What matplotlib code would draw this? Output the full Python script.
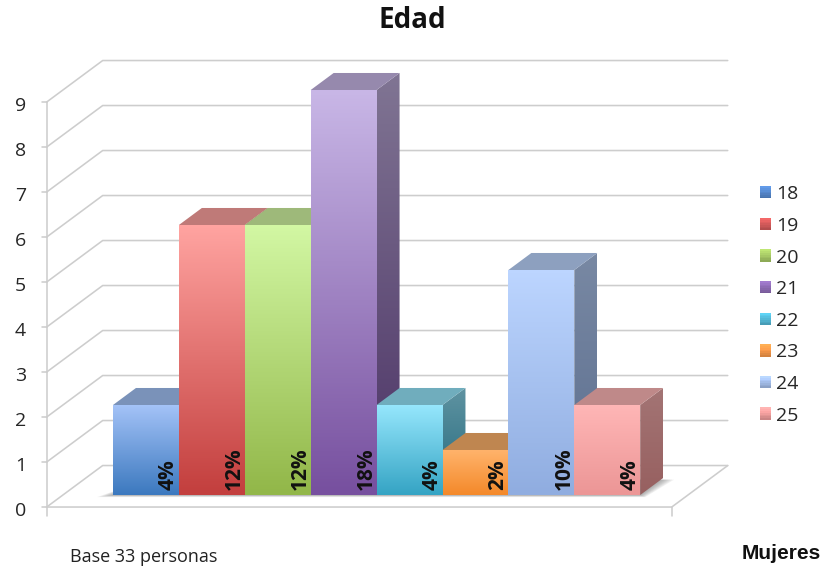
import numpy as np
import matplotlib
matplotlib.use("Agg")
import matplotlib.pyplot as plt
from matplotlib.colors import LinearSegmentedColormap, to_rgb
from matplotlib.legend_handler import HandlerBase
from matplotlib.patches import Polygon, Patch, Rectangle

ages = ["18", "19", "20", "21", "22", "23", "24", "25"]
counts = [2, 6, 6, 9, 2, 1, 5, 2]
percent_labels = ["4%", "12%", "12%", "18%", "4%", "2%", "10%", "4%"]
y_ticks = list(range(10))
light_colors = ["#a3c2f7", "#ffa3a0", "#d2f7a3", "#c8b6e6", "#95e6fc", "#ffb36b", "#bcd5ff", "#ffb6b6"]
dark_colors = ["#3c79bf", "#c33f3e", "#92b749", "#77509f", "#35a4c4", "#f4892a", "#90ade0", "#ec9696"]
legend_colors = ["#5587cb", "#d35a5a", "#a6c865", "#8d6bb4", "#53b8d6", "#f8994a", "#a3bde9", "#ef9d9c"]

W, H = 823, 569
PX_X, PX_Y = 65.9, 45.0          # pixels per category / per count
ORIGIN_X, ORIGIN_Y = 113.0, 495.0
DEPTH_X, DEPTH_Y = 56 / PX_X, 41.5 / PX_Y   # full floor depth in data units
BAR_FRONT, BAR_BACK = 0.29, 0.70
FLOOR_L, FLOOR_R = -0.76, 8.725
GRID = "#cdcdcd"

fig = plt.figure(figsize=(W / 100, H / 100), dpi=100, facecolor="white")
ax = fig.add_axes([0, 0, 1, 1])
xlim = (-ORIGIN_X / PX_X, (W - ORIGIN_X) / PX_X)
ylim = ((ORIGIN_Y - H) / PX_Y, ORIGIN_Y / PX_Y)
ax.axis("off")


def project(x, v, t):
    """Map category position, count and floor depth (0 front, 1 back) to the axes."""
    return x + (t - BAR_FRONT) * DEPTH_X, v + (t - BAR_FRONT) * DEPTH_Y


def shade(color, factor):
    return tuple(min(c * factor, 1) for c in to_rgb(color))


def gradient_face(verts, top, bottom, zorder):
    xs, ys = zip(*verts)
    cmap = LinearSegmentedColormap.from_list("face", [bottom, top])
    img = ax.imshow(np.linspace(1, 0, 64).reshape(-1, 1), extent=(min(xs), max(xs), min(ys), max(ys)),
                    cmap=cmap, vmin=0, vmax=1, aspect="auto", interpolation="bilinear", zorder=zorder)
    img.set_clip_path(Polygon(verts, closed=True, transform=ax.transData))


class GradientSwatch(HandlerBase):
    """Legend key filled with a top-to-bottom fade of the patch colour."""

    def create_artists(self, legend, orig_handle, xdescent, ydescent, width, height, fontsize, trans):
        base = orig_handle.get_facecolor()
        strips = []
        for k, f in enumerate(np.linspace(0.85, 1.15, 7)):
            strips.append(Rectangle((-xdescent, -ydescent + k * height / 7), width, height / 7 + 0.3,
                                    facecolor=shade(base, f), edgecolor="none", transform=trans))
        return strips


# Walls and floor guide lines
line = dict(color=GRID, lw=1.15, solid_capstyle="round", zorder=1)
for v in y_ticks:
    x0, y0 = project(FLOOR_L, v, 0)
    x1, y1 = project(FLOOR_L, v, 1)
    x2, y2 = project(FLOOR_R, v, 1)
    ax.plot([x0, x1, x2], [y0, y1, y2], **line)
    ax.plot([x0 - 5 / PX_X, x0], [y0, y0], **line)
    ax.text(x0 - 26 / PX_X, y0 - 4 / PX_Y, str(v), ha="center", va="center", fontsize=14,
            family="Open Sans", color="#262626", zorder=6)

ax.plot(*zip(project(FLOOR_L, 0, 0), project(FLOOR_L, 9, 0)), **line)
ax.plot(*zip(project(FLOOR_L, 0, 0), project(FLOOR_L, -0.2, 0)), **line)
ax.plot(*zip(project(FLOOR_L, 0, 0), project(FLOOR_R, 0, 0), project(FLOOR_R, 0, 1)), **line)
ax.plot(*zip(project(FLOOR_R, 0, 0), project(FLOOR_R, -0.2, 0)), **line)

# Soft shadow on the floor beneath the row of bars
for grow in np.linspace(0, 1, 8):
    spread = 1 - grow
    ax.add_patch(Polygon([project(-0.22 * spread + 0.02, 0, BAR_FRONT - 0.05 * spread),
                          project(8 + 0.12 * spread, 0, BAR_FRONT - 0.05 * spread),
                          project(8 + 0.2 * spread, 0, BAR_BACK - 0.04),
                          project(0.2, 0, BAR_BACK - 0.04)],
                         closed=True, facecolor="#666666", edgecolor="none", alpha=0.09, zorder=1.5))

# Bars, painted left to right so that nearer ones overlap
for i, (v, light, dark) in enumerate(zip(counts, light_colors, dark_colors)):
    z = 2 + i * 0.1
    front = [project(i, 0, BAR_FRONT), project(i + 1, 0, BAR_FRONT),
             project(i + 1, v, BAR_FRONT), project(i, v, BAR_FRONT)]
    side = [project(i + 1, 0, BAR_FRONT), project(i + 1, 0, BAR_BACK),
            project(i + 1, v, BAR_BACK), project(i + 1, v, BAR_FRONT)]
    top = [project(i, v, BAR_FRONT), project(i + 1, v, BAR_FRONT),
           project(i + 1, v, BAR_BACK), project(i, v, BAR_BACK)]
    gradient_face(side, shade(light, 0.64), shade(dark, 0.64), z)
    ax.add_patch(Polygon(top, closed=True, facecolor=shade(light, 0.75), edgecolor="none", zorder=z + 0.01))
    gradient_face(front, light, dark, z + 0.02)

for i, label in enumerate(percent_labels):
    ax.text(i + 1 - 10.5 / PX_X, 0.12, label, rotation=90, ha="center", va="bottom", fontsize=15,
            family="Open Sans", weight="bold", color="#111111", zorder=5)

# Legend
handles = [Patch(facecolor=c, edgecolor="none", label=a) for a, c in zip(ages, legend_colors)]
ax.legend(handles=handles, loc="center left", bbox_to_anchor=(760 / W, 1 - 305 / H), frameon=False,
          ncol=1, handlelength=0.57, handleheight=0.57, handletextpad=0.26, labelspacing=0.7,
          prop=dict(family="Open Sans", size=14), labelcolor="#262626", borderpad=0, borderaxespad=0,
          handler_map={Patch: GradientSwatch()})

ax.set_xlim(xlim)
ax.set_ylim(ylim)

fig.text(412 / W, 1 - 27.5 / H, "Edad", ha="center", va="baseline", fontsize=20, family="Open Sans",
         weight="bold", color="#111111")
fig.text(70 / W, 1 - 562 / H, "Base 33 personas", ha="left", va="baseline", fontsize=13,
         family="Open Sans", color="#222222")
fig.text(821 / W, 1 - 559 / H, "Mujeres", ha="right", va="baseline", fontsize=15,
         family="Liberation Sans", weight="bold", color="#111111")

fig.savefig("out.png", dpi=100)
